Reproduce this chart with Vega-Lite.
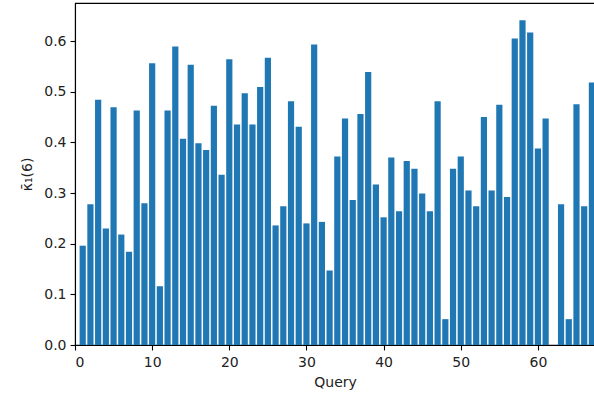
{
  "$schema": "https://vega.github.io/schema/vega-lite/v6.json",
  "width": 520,
  "height": 342,
  "autosize": {"type": "none"},
  "padding": {"left": 75, "top": 3, "right": 0, "bottom": 54},
  "background": "white",
  "config": {
    "view": {"stroke": "#000", "strokeWidth": 1.1},
    "axis": {
      "labelFont": "DejaVu Sans",
      "labelFontSize": 14,
      "labelColor": "#222",
      "titleFont": "DejaVu Sans",
      "titleFontSize": 14,
      "titleFontWeight": "normal",
      "titleColor": "#222",
      "tickColor": "#000",
      "tickSize": 5,
      "tickWidth": 1.1,
      "domainColor": "#000",
      "domainWidth": 1.1,
      "labelPadding": 4,
      "grid": false
    }
  },
  "data": {
    "values": [
      {"query": 1, "kappa": 0.196}, {"query": 2, "kappa": 0.278}, {"query": 3, "kappa": 0.484},
      {"query": 4, "kappa": 0.230}, {"query": 5, "kappa": 0.469}, {"query": 6, "kappa": 0.218},
      {"query": 7, "kappa": 0.184}, {"query": 8, "kappa": 0.463}, {"query": 9, "kappa": 0.280},
      {"query": 10, "kappa": 0.556}, {"query": 11, "kappa": 0.116}, {"query": 12, "kappa": 0.463},
      {"query": 13, "kappa": 0.589}, {"query": 14, "kappa": 0.407}, {"query": 15, "kappa": 0.553},
      {"query": 16, "kappa": 0.398}, {"query": 17, "kappa": 0.385}, {"query": 18, "kappa": 0.472},
      {"query": 19, "kappa": 0.336}, {"query": 20, "kappa": 0.564}, {"query": 21, "kappa": 0.435},
      {"query": 22, "kappa": 0.497}, {"query": 23, "kappa": 0.435}, {"query": 24, "kappa": 0.509},
      {"query": 25, "kappa": 0.567}, {"query": 26, "kappa": 0.236}, {"query": 27, "kappa": 0.274},
      {"query": 28, "kappa": 0.481}, {"query": 29, "kappa": 0.431}, {"query": 30, "kappa": 0.240},
      {"query": 31, "kappa": 0.593}, {"query": 32, "kappa": 0.243}, {"query": 33, "kappa": 0.147},
      {"query": 34, "kappa": 0.372}, {"query": 35, "kappa": 0.447}, {"query": 36, "kappa": 0.286},
      {"query": 37, "kappa": 0.456}, {"query": 38, "kappa": 0.539}, {"query": 39, "kappa": 0.317},
      {"query": 40, "kappa": 0.252}, {"query": 41, "kappa": 0.370}, {"query": 42, "kappa": 0.264},
      {"query": 43, "kappa": 0.363}, {"query": 44, "kappa": 0.348}, {"query": 45, "kappa": 0.299},
      {"query": 46, "kappa": 0.264}, {"query": 47, "kappa": 0.481}, {"query": 48, "kappa": 0.051},
      {"query": 49, "kappa": 0.348}, {"query": 50, "kappa": 0.372}, {"query": 51, "kappa": 0.305},
      {"query": 52, "kappa": 0.274}, {"query": 53, "kappa": 0.450}, {"query": 54, "kappa": 0.305},
      {"query": 55, "kappa": 0.474}, {"query": 56, "kappa": 0.292}, {"query": 57, "kappa": 0.605},
      {"query": 58, "kappa": 0.641}, {"query": 59, "kappa": 0.617}, {"query": 60, "kappa": 0.388},
      {"query": 61, "kappa": 0.447}, {"query": 62, "kappa": 0.0}, {"query": 63, "kappa": 0.278},
      {"query": 64, "kappa": 0.051}, {"query": 65, "kappa": 0.475}, {"query": 66, "kappa": 0.274},
      {"query": 67, "kappa": 0.518}
    ]
  },
  "mark": {"type": "bar", "size": 6.2, "color": "#1f77b4", "orient": "vertical", "clip": true},
  "encoding": {
    "x": {
      "field": "query",
      "type": "quantitative",
      "scale": {"domain": [0, 67.4], "nice": false, "zero": false, "padding": 0},
      "axis": {"values": [0, 10, 20, 30, 40, 50, 60], "title": "Query", "titlePadding": 6, "labelPadding": 5}
    },
    "y": {
      "field": "kappa",
      "type": "quantitative",
      "scale": {"domain": [0, 0.675], "nice": false, "zero": true, "padding": 0},
      "axis": {"values": [0, 0.1, 0.2, 0.3, 0.4, 0.5, 0.6], "format": ".1f", "title": "κ̄₁(6)", "titlePadding": 9}
    }
  }
}
